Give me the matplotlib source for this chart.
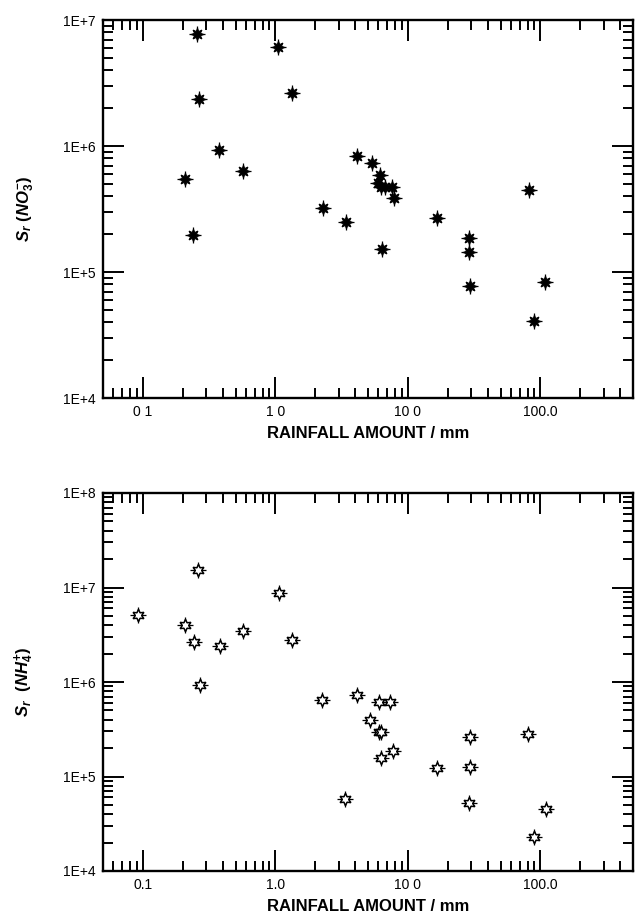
import matplotlib

matplotlib.use("Agg")
import matplotlib.pyplot as plt
from matplotlib.ticker import FixedLocator, FixedFormatter, LogLocator, NullFormatter

plt.rcParams["font.family"] = ["Liberation Sans", "DejaVu Sans"]
plt.rcParams["mathtext.fontset"] = "custom"
plt.rcParams["mathtext.it"] = "Liberation Sans:italic:bold"
plt.rcParams["mathtext.rm"] = "Liberation Sans:bold"
plt.rcParams["mathtext.default"] = "it"

# rainfall amount (mm) and S_r values for nitrate
no3_rain = [0.255, 1.05, 0.267, 1.33, 0.378, 0.565, 0.207, 0.238, 2.28, 3.40,
            4.15, 5.33, 6.16, 5.99, 6.27, 6.71, 7.55, 7.85, 6.41, 16.7,
            29.0, 29.0, 29.6, 81.5, 108.7, 89.3]
no3_sr = [7.8e6, 6.07e6, 2.36e6, 2.65e6, 9.3e5, 6.35e5, 5.52e5, 1.97e5, 3.23e5, 2.51e5,
          8.3e5, 7.3e5, 5.9e5, 5.06e5, 4.7e5, 4.7e5, 4.7e5, 3.85e5, 1.52e5, 2.7e5,
          1.87e5, 1.45e5, 7.8e4, 4.5e5, 8.3e4, 4.1e4]

# rainfall amount (mm) and S_r values for ammonium
nh4_rain = [0.0914, 0.26, 0.208, 0.241, 0.38, 0.567, 0.27, 1.06, 1.34, 2.26,
            4.11, 6.04, 7.36, 5.21, 6.04, 6.25, 6.25, 7.73, 3.33, 16.7,
            29.3, 29.3, 29.1, 81.1, 109.7, 88.9]
nh4_sr = [5.09e6, 1.55e7, 4.05e6, 2.66e6, 2.39e6, 3.48e6, 9.4e5, 8.77e6, 2.81e6, 6.43e5,
          7.26e5, 6.07e5, 6.07e5, 3.95e5, 2.97e5, 2.97e5, 1.58e5, 1.87e5, 5.73e4, 1.24e5,
          2.63e5, 1.27e5, 5.28e4, 2.85e5, 4.49e4, 2.31e4]

x_ticks = [0.1, 1.0, 10.0, 100.0]
x_labels_top = ["0 1", "1 0", "10 0", "100.0"]
x_labels_bottom = ["0.1", "1.0", "10 0", "100.0"]
y_ticks_top = [1e4, 1e5, 1e6, 1e7]
y_labels_top = ["1E+4", "1E+5", "1E+6", "1E+7"]
y_ticks_bottom = [1e4, 1e5, 1e6, 1e7, 1e8]
y_labels_bottom = ["1E+4", "1E+5", "1E+6", "1E+7", "1E+8"]

W, H = 635, 915
fig = plt.figure(figsize=(W / 100, H / 100), dpi=100)
ax_top = fig.add_axes([103 / W, (H - 398) / H, 530 / W, 378 / H])
ax_bot = fig.add_axes([103 / W, (H - 871) / H, 530 / W, 378 / H])


def style_axis(ax, xlabels, yticks, ylabels, ylim, ylabel):
    ax.set_xscale("log")
    ax.set_yscale("log")
    ax.set_xlim(0.05, 500)
    ax.set_ylim(*ylim)
    ax.xaxis.set_major_locator(FixedLocator(x_ticks))
    ax.xaxis.set_major_formatter(FixedFormatter(xlabels))
    ax.yaxis.set_major_locator(FixedLocator(yticks))
    ax.yaxis.set_major_formatter(FixedFormatter(ylabels))
    ax.xaxis.set_minor_locator(LogLocator(base=10, subs=range(2, 10), numticks=20))
    ax.yaxis.set_minor_locator(LogLocator(base=10, subs=range(2, 10), numticks=20))
    ax.xaxis.set_minor_formatter(NullFormatter())
    ax.yaxis.set_minor_formatter(NullFormatter())
    ax.tick_params(which="both", direction="in", top=True, right=True, width=1.4,
                   labelsize=10, pad=5)
    ax.tick_params(which="major", length=15)
    ax.tick_params(which="minor", length=7)
    for spine in ax.spines.values():
        spine.set_linewidth(1.7)
    ax.set_xlabel("RAINFALL AMOUNT / mm", fontsize=12, fontweight="bold", labelpad=5)
    ax.set_ylabel(ylabel, fontsize=12, labelpad=20)


style_axis(ax_top, x_labels_top, y_ticks_top, y_labels_top, (1e4, 1e7),
           r"$S_r\ (NO_3^{-})$")
style_axis(ax_bot, x_labels_bottom, y_ticks_bottom, y_labels_bottom, (1e4, 1e8),
           r"$S_r\ \ (NH_4^{+})$")

# filled stars for nitrate
ax_top.plot(no3_rain, no3_sr, ls="none", marker="+", ms=11, mew=0.9, color="black")
ax_top.plot(no3_rain, no3_sr, ls="none", marker=(8, 1, 0), ms=9, mfc="black",
            mec="black", mew=0.8)

# open stars for ammonium
ax_bot.plot(nh4_rain, nh4_sr, ls="none", marker="+", ms=12, mew=0.9, color="black")
ax_bot.plot(nh4_rain, nh4_sr, ls="none", marker=(6, 1, 0), ms=9, mfc="white",
            mec="black", mew=1.1)

fig.savefig("out.png", dpi=100)
